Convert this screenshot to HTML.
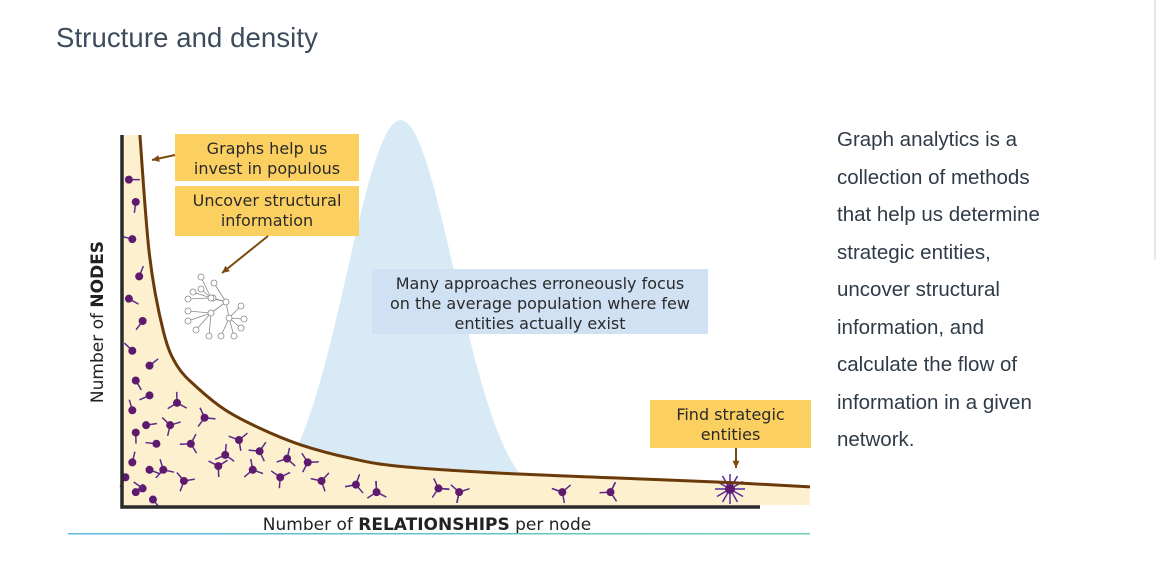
<!DOCTYPE html>
<html><head><meta charset="utf-8">
<style>
html,body{margin:0;padding:0;background:#fff;width:1175px;height:570px;overflow:hidden;position:relative;font-family:"Liberation Sans",sans-serif}
#title{position:absolute;left:56px;top:22px;font-size:27.5px;color:#3d4b5c;margin:0;font-weight:normal;letter-spacing:0.1px}
#desc{position:absolute;left:837px;top:121px;font-size:20.5px;line-height:37.5px;color:#2f3b48;width:225px;margin:0}
#vline{position:absolute;left:1154px;top:0;width:2px;height:260px;background:#e6e8f0}
svg{position:absolute;left:0;top:0}
</style></head><body>
<h2 id="title">Structure and density</h2>
<div id="vline"></div>
<p id="desc">Graph analytics is a collection of methods that help us determine strategic entities, uncover structural information, and calculate the flow of information in a given network.</p>
<svg id="chart" width="1175" height="570" font-family="'DejaVu Sans','Liberation Sans',sans-serif">
<defs><linearGradient id="bl" x1="0" x2="1"><stop offset="0" stop-color="#5db6e0"/><stop offset="1" stop-color="#6fcfb0"/></linearGradient></defs>
</svg>
<script>
// data
const curveX=[2.6,4,6,8,11,15,20,26,33,40,55,72,89,100];
const curveY=[100,67.7,47.3,38,32,26.1,21.2,16.7,13.2,11,9.1,7.8,6.5,5.4];
const bellMean=40.5, bellSd=7.8, bellPeak=104;
const svg=document.getElementById('chart');
const NS='http://www.w3.org/2000/svg';
const sx=x=>122+x*6.88, sy=y=>507-y*3.72;
function mk(t,a,p){const e=document.createElementNS(NS,t);for(const k in a)e.setAttribute(k,a[k]);(p||svg).appendChild(e);return e;}
// bell
let bd='M'+sx(bellMean-4*bellSd)+','+sy(0);
for(let x=bellMean-4*bellSd;x<=bellMean+4*bellSd;x+=0.5){bd+=' L'+sx(x).toFixed(1)+','+sy(bellPeak*Math.exp(-((x-bellMean)**2)/(2*bellSd*bellSd))).toFixed(1);}
bd+=' Z';
const bell=mk('path',{d:bd,fill:'#d9eaf7'});


// smooth curve (catmull-rom)
const P=curveX.map((x,i)=>[sx(x),sy(curveY[i])]);
let cd='M'+P[0][0].toFixed(1)+','+P[0][1].toFixed(1);
for(let i=0;i<P.length-1;i++){const p0=P[Math.max(i-1,0)],p1=P[i],p2=P[i+1],p3=P[Math.min(i+2,P.length-1)];
cd+=` C${(p1[0]+(p2[0]-p0[0])/6).toFixed(1)},${(p1[1]+(p2[1]-p0[1])/6).toFixed(1)} ${(p2[0]-(p3[0]-p1[0])/6).toFixed(1)},${(p2[1]-(p3[1]-p1[1])/6).toFixed(1)} ${p2[0].toFixed(1)},${p2[1].toFixed(1)}`;}
const area=mk('path',{d:'M'+sx(0)+','+sy(0)+' L'+sx(0)+','+sy(curveY[0])+' '+cd.replace('M','L')+' L'+sx(curveX[curveX.length-1])+','+(sy(0)-2)+' Z',fill:'#fdf0cf'});


// markers
const mx=[1,2,1.5,2.5,1,3,1.5,4,2,4,1.5,3.5,2,5,1.5,4,0.5,3,2,4.5,8,12,7,17,10,15,6,9,14,20,24,19,27,23,29,34,37,46,49,64,71];
const my=[88,82,72,62,56,50,42,38,34,30,26,22,20,17,12,10,8,5,4,2,28,24,22,18,17,14,10,7,11,15,13,10,12,8,7,6,4,5,4,4,4];
mx.forEach((x,i)=>{const g=mk('g',{});


const cx=sx(x),cy=sy(my[i]);const n=x<6?1:(x<30?3:4);
for(let k=0;k<n;k++){const a=(i*1.7+k*2.1);mk('line',{x1:cx,y1:cy,x2:cx+Math.cos(a)*11,y2:cy+Math.sin(a)*11,stroke:'#5a2a8c','stroke-width':1.5},g);}
mk('circle',{cx:cx,cy:cy,r:4,fill:'#5e1a6e'},g);});
// hub
const hub=mk('g',{});


for(let k=0;k<12;k++){const a=k*Math.PI/6;mk('line',{x1:730,y1:489,x2:730+Math.cos(a)*15,y2:489+Math.sin(a)*15,stroke:'#5a2a9c','stroke-width':1.5},hub);}
mk('circle',{cx:730,cy:489,r:5,fill:'#5e1a6e'},hub);
// curve line
const line=mk('path',{d:cd,fill:'none',stroke:'#6b3a0a','stroke-width':3});


// axes
const ax=mk('path',{d:'M122,135 L122,507 L760,507',fill:'none',stroke:'#2a2a2a','stroke-width':3.5});


const yt=mk('text',{x:0,y:0,transform:'translate(103,322) rotate(-90)','text-anchor':'middle','font-size':17,fill:'#222'});
yt.innerHTML='Number of <tspan font-weight="bold">NODES</tspan>';


const xt=mk('text',{x:427,y:530,'text-anchor':'middle','font-size':17,fill:'#222'});
xt.innerHTML='Number of <tspan font-weight="bold">RELATIONSHIPS</tspan> per node';


const bl=mk('rect',{x:68,y:533,width:742,height:1.5,fill:'url(#bl)'});


// callouts
function box(x,y,w,h,fill,lines,name,ty){const g=mk('g',{});


mk('rect',{x:x,y:y,width:w,height:h,fill:fill},g);
lines.forEach((t,i)=>{const e=mk('text',{x:x+w/2,y:ty+i*20,'text-anchor':'middle','font-size':16,fill:'#2a2a2a'},g);e.textContent=t;});}
box(175,134,184,47,'#fbd061',['Graphs help us','invest in populous'],'callout-populous',154);
box(175,186,184,50,'#fbd061',['Uncover structural','information'],'callout-structural',206);
box(372,269,336,65,'#cfe1f2',['Many approaches erroneously focus','on the average population where few','entities actually exist'],'callout-average',289);
box(650,400,161,48,'#fbd061',['Find strategic','entities'],'callout-strategic',420);
// arrows
[[175,155,152,160],[268,236,222,273],[736,448,736,468]].forEach(a=>{const l=mk('line',{x1:a[0],y1:a[1],x2:a[2],y2:a[3],stroke:'#7a4a10','stroke-width':2});


const ang=Math.atan2(a[3]-a[1],a[2]-a[0]);const p=mk('path',{d:`M${a[2]},${a[3]} L${a[2]-8*Math.cos(ang-0.45)},${a[3]-8*Math.sin(ang-0.45)} L${a[2]-8*Math.cos(ang+0.45)},${a[3]-8*Math.sin(ang+0.45)} Z`,fill:'#7a4a10'});

});
// tree icon
const tree=mk('g',{stroke:'#888','stroke-width':0.8,fill:'#fff'});


const tn=[[211,298],[226,302],[211,313],[229,318]];const leaves=[[[201,289],[193,292],[188,299],[201,277]],[[214,283],[213,298]],[[188,311],[188,321],[196,330],[209,336]],[[241,306],[244,319],[241,328],[234,336],[221,336]]];
[[0,1],[1,2],[1,3]].forEach(e=>mk('line',{x1:tn[e[0]][0],y1:tn[e[0]][1],x2:tn[e[1]][0],y2:tn[e[1]][1]},tree));
leaves.forEach((ls,i)=>ls.forEach(l=>mk('line',{x1:tn[i][0],y1:tn[i][1],x2:l[0],y2:l[1]},tree)));
leaves.forEach(ls=>ls.forEach(l=>mk('circle',{cx:l[0],cy:l[1],r:3},tree)));
tn.forEach(n=>mk('circle',{cx:n[0],cy:n[1],r:3},tree));
</script>
</body></html>
